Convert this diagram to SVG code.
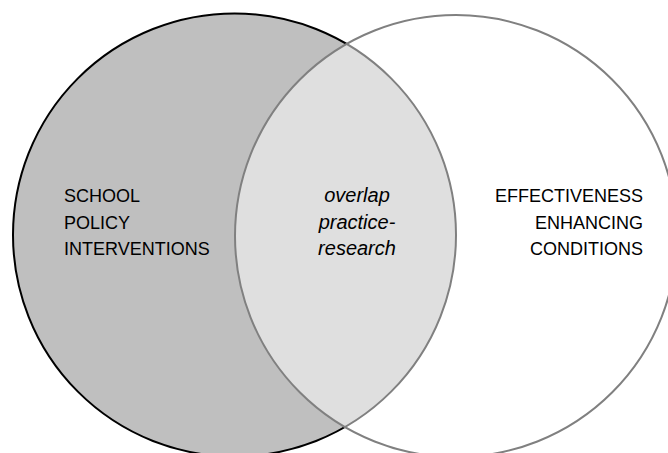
<svg xmlns="http://www.w3.org/2000/svg" width="668" height="453" viewBox="0 0 668 453">
<style>
text{font-family:"Liberation Sans",Arial,sans-serif;font-size:18px;fill:#000}
.it{font-style:italic;text-anchor:middle;font-size:20px}
.r{text-anchor:end}
</style>
<rect width="668" height="453" fill="#fff"/>
<g id="school-policy">
<circle cx="234.5" cy="235" r="221.5" fill="#bfbfbf" stroke="#000" stroke-width="2"/>
</g>
<g id="effectiveness">
<circle cx="456" cy="236" r="221" fill="#fff" fill-opacity="0.5" stroke="#808080" stroke-width="2"/>
</g>
<g id="labels">
<text x="64" y="202">SCHOOL</text>
<text x="64" y="228.5">POLICY</text>
<text x="64" y="255">INTERVENTIONS</text>
<text class="it" x="357" y="202">overlap</text>
<text class="it" x="357" y="228.5">practice-</text>
<text class="it" x="357" y="255">research</text>
<text class="r" x="643" y="202">EFFECTIVENESS</text>
<text class="r" x="643" y="228.5">ENHANCING</text>
<text class="r" x="643" y="255">CONDITIONS</text>
</g>
</svg>
